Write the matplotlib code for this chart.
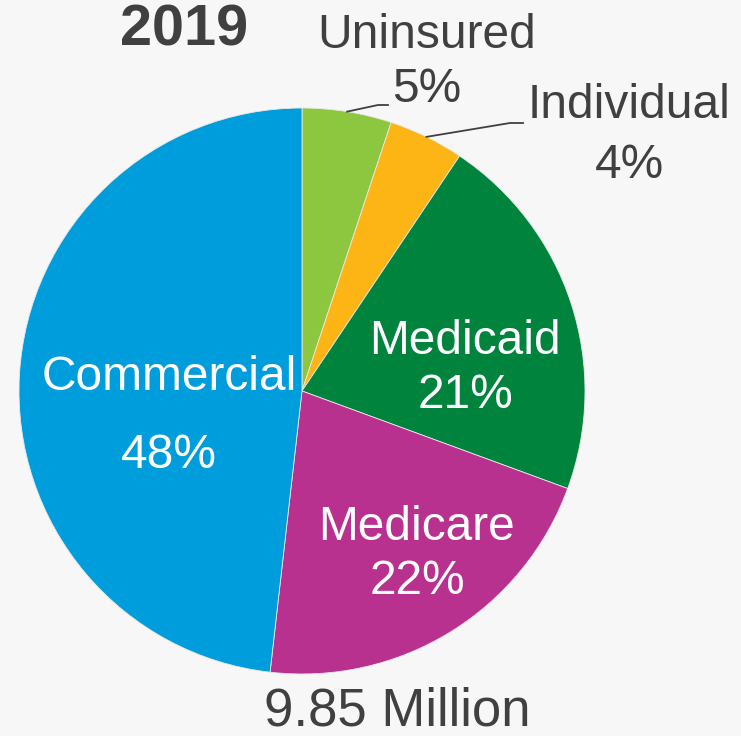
import numpy as np
import matplotlib.pyplot as plt

plt.rcParams["font.family"] = ["Liberation Sans", "DejaVu Sans"]

categories = ["Uninsured", "Individual", "Medicaid", "Medicare", "Commercial"]
shares = [5.1, 4.3, 21.2, 21.2, 48.2]
pct_labels = ["5%", "4%", "21%", "22%", "48%"]
colors = ["#8dc63f", "#fdb515", "#00843d", "#b9318f", "#009ddc"]
year = "2019"
total = "9.85 Million"

W, H = 741, 736
fig = plt.figure(figsize=(W / 100, H / 100), dpi=100)
fig.patch.set_facecolor("#f7f7f7")
ax = fig.add_axes([0, 0, 1, 1])

cx, cy, r = 302, H - 391, 283
wedges, _ = ax.pie(shares, colors=colors, startangle=90, counterclock=False,
                   center=(cx, cy), radius=r, frame=True,
                   wedgeprops=dict(edgecolor="#e8e8e8", linewidth=0.6))
ax.set_xlim(0, W)
ax.set_ylim(0, H)
ax.set_aspect("equal")
ax.axis("off")

dark = "#404040"
fs = 34.5

# labels inside the big slices (white)
inside = {2: (465, 341, 395), 3: (417, 528, 582), 4: (169, 378, 456)}
for i, (x, y1, y2) in inside.items():
    ax.text(x, H - y1, categories[i], color="white", fontsize=fs, ha="center", va="center")
    ax.text(x, H - y2, pct_labels[i], color="white", fontsize=fs, ha="center", va="center")

# small slices: outside labels with leader lines
outside = {0: (427, 35, 89, [(378, 105), (388, 105)]),
           1: (629, 106, 165, [(510, 123), (523, 123)])}
for i, (x, y1, y2, elbow) in outside.items():
    w = wedges[i]
    th = np.deg2rad((w.theta1 + w.theta2) / 2)
    sx, sy = cx + r * np.cos(th), cy + r * np.sin(th)
    xs = [sx] + [p[0] for p in elbow]
    ys = [sy] + [H - p[1] for p in elbow]
    ax.plot(xs, ys, color=dark, lw=1.3)
    ax.text(x, H - y1, categories[i], color=dark, fontsize=fs, ha="center", va="center")
    ax.text(x, H - y2, pct_labels[i], color=dark, fontsize=fs, ha="center", va="center")

ax.text(184, H - 31, year, color=dark, fontsize=41.5, fontweight="bold", ha="center", va="center")
ax.text(397, H - 711, total, color=dark, fontsize=38, ha="center", va="center")

fig.savefig("out.png", dpi=100, facecolor=fig.get_facecolor())
